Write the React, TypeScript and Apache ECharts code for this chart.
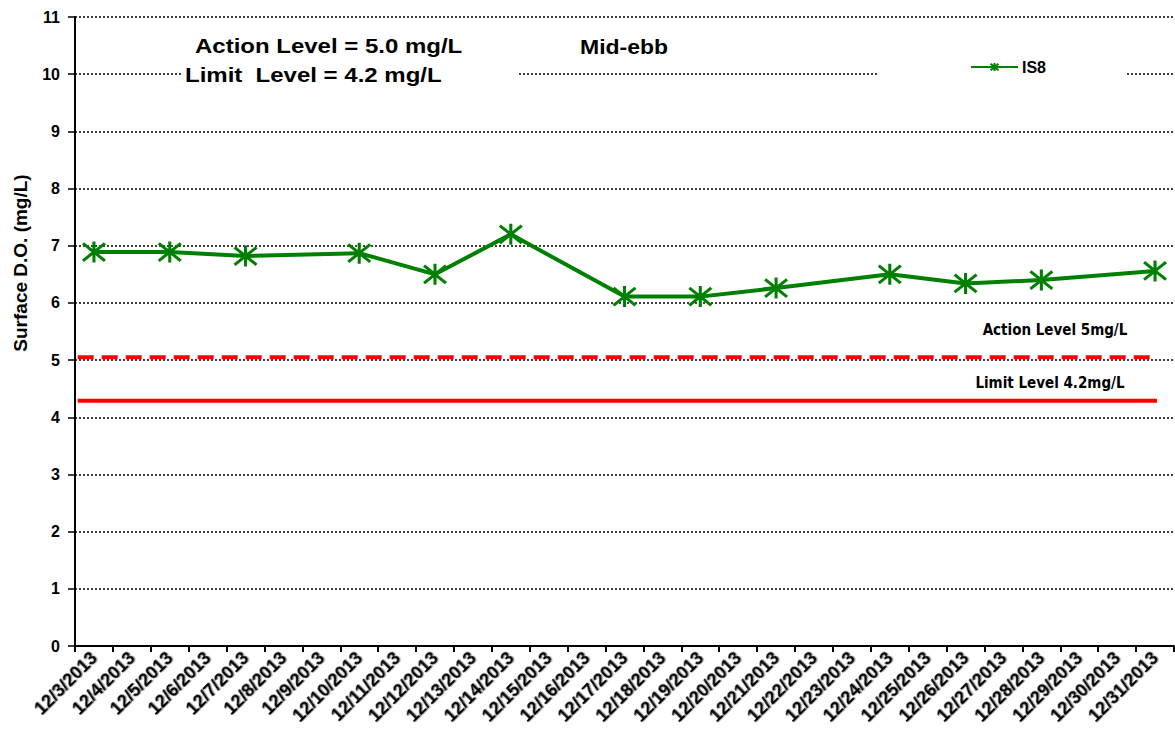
import React, { useEffect, useRef } from "react";
import * as echarts from "echarts";

const dates = [
  "12/3/2013", "12/4/2013", "12/5/2013", "12/6/2013", "12/7/2013", "12/8/2013",
  "12/9/2013", "12/10/2013", "12/11/2013", "12/12/2013", "12/13/2013", "12/14/2013",
  "12/15/2013", "12/16/2013", "12/17/2013", "12/18/2013", "12/19/2013", "12/20/2013",
  "12/21/2013", "12/22/2013", "12/23/2013", "12/24/2013", "12/25/2013", "12/26/2013",
  "12/27/2013", "12/28/2013", "12/29/2013", "12/30/2013", "12/31/2013",
];
// IS8 surface DO, null = no sampling that day
const is8 = [
  6.89, null, 6.89, null, 6.82, null, null, 6.87, null, 6.5, null, 7.2,
  null, null, 6.11, null, 6.11, null, 6.26, null, null, 6.5, null, 6.34,
  null, 6.4, null, null, 6.56,
];
const actionLevel = 5.05;
const limitLevel = 4.29;
const levelSpan = [0.07, 28.55];
const yTicks = { min: 0, max: 11, interval: 1 };

const FONT = "'Liberation Sans', Arial, sans-serif";
const STAR = "path://M0,0L10,10M10,0L0,10M5,-1L5,11";

export default function App() {
  const ref = useRef<HTMLDivElement>(null);
  useEffect(() => {
    if (!ref.current) return;
    const chart = echarts.init(ref.current, undefined, { renderer: "svg" });
    const green = "#008000";
    chart.setOption({
      animation: false,
      backgroundColor: "#fff",
      grid: { left: 75, right: 1, top: 17, bottom: 94, containLabel: false },
      legend: {
        data: ["IS8"],
        left: 877,
        top: 53,
        padding: [6, 80, 6, 93],
        backgroundColor: "#fff",
        itemWidth: 47,
        itemHeight: 10,
        itemGap: 4,
        textStyle: { fontFamily: FONT, fontWeight: "bold", fontSize: 16, color: "#000", padding: [0, 0, 0, -1] },
      },
      xAxis: [
        {
          type: "category",
          data: dates,
          boundaryGap: true,
          axisLine: { show: true, lineStyle: { color: "#000", width: 2 } },
          axisTick: { show: true, length: 6, interval: 0, lineStyle: { color: "#000", width: 2 } },
          axisLabel: {
            interval: 0,
            rotate: 45,
            margin: 9,
            fontFamily: FONT,
            fontWeight: "bold",
            fontSize: 18,
            color: "#000",
            textShadowColor: "rgba(0,0,0,0.35)",
            textShadowOffsetX: 1,
            textShadowOffsetY: 1,
            textShadowBlur: 1,
          },
          splitLine: { show: false },
        },
        {
          type: "value",
          min: 0,
          max: dates.length,
          show: false,
        },
      ],
      yAxis: {
        type: "value",
        min: yTicks.min,
        max: yTicks.max,
        interval: yTicks.interval,
        axisLine: { show: true, lineStyle: { color: "#000", width: 2 } },
        axisTick: { show: true, length: 7, lineStyle: { color: "#000", width: 1.5 } },
        axisLabel: {
          margin: 15,
          fontFamily: FONT,
          fontWeight: "bold",
          fontSize: 16,
          color: "#000",
        },
        splitLine: { show: true, lineStyle: { color: "#000", width: 1.5, type: [2, 2] } },
      },
      series: [
        {
          name: "Action",
          type: "line",
          xAxisIndex: 1,
          data: levelSpan.map((x) => [x, actionLevel]),
          symbol: "none",
          lineStyle: { color: "#ff0000", width: 4, type: [16, 8] },
          z: 3,
        },
        {
          name: "Limit",
          type: "line",
          xAxisIndex: 1,
          data: levelSpan.map((x) => [x, limitLevel]),
          symbol: "none",
          lineStyle: { color: "#ff0000", width: 4 },
          z: 3,
        },
        {
          name: "IS8",
          type: "line",
          xAxisIndex: 0,
          data: is8,
          connectNulls: true,
          symbol: STAR,
          symbolSize: [22, 21],
          symbolKeepAspect: false,
          lineStyle: { color: green, width: 4 },
          itemStyle: { color: green, borderColor: green, borderWidth: 3 },
          z: 4,
        },
      ],
      graphic: [
        {
          type: "rect",
          z: 10,
          shape: { x: 183, y: 30, width: 334, height: 60 },
          style: { fill: "#fff" },
        },
        {
          type: "text",
          z: 11,
          x: 195,
          y: 46,
          scaleX: 1.2,
          style: {
            text: "Action Level = 5.0 mg/L",
            font: `bold 20px ${FONT}`,
            fill: "#000",
            verticalAlign: "middle",
          },
        },
        {
          type: "text",
          z: 11,
          x: 185,
          y: 75,
          scaleX: 1.2,
          style: {
            text: "Limit  Level = 4.2 mg/L",
            font: `bold 20px ${FONT}`,
            fill: "#000",
            verticalAlign: "middle",
          },
        },
        {
          type: "text",
          z: 11,
          x: 580,
          y: 47,
          scaleX: 1.15,
          style: {
            text: "Mid-ebb",
            font: `bold 20px ${FONT}`,
            fill: "#000",
            verticalAlign: "middle",
          },
        },
        {
          type: "text",
          z: 11,
          x: 20,
          y: 263,
          rotation: Math.PI / 2,
          style: {
            text: "Surface D.O. (mg/L)",
            font: `bold 19px ${FONT}`,
            fill: "#000",
            align: "center",
            verticalAlign: "middle",
          },
        },
        {
          type: "text",
          z: 11,
          x: 1055,
          y: 330,
          style: {
            text: "Action Level 5mg/L",
            font: `bold 15px 'DejaVu Sans Condensed', 'Liberation Sans', sans-serif`,
            fill: "#000",
            align: "center",
            verticalAlign: "middle",
          },
        },
        {
          type: "text",
          z: 11,
          x: 1050,
          y: 383,
          style: {
            text: "Limit Level 4.2mg/L",
            font: `bold 15px 'DejaVu Sans Condensed', 'Liberation Sans', sans-serif`,
            fill: "#000",
            align: "center",
            verticalAlign: "middle",
          },
        },
      ],
    });
    return () => chart.dispose();
  }, []);
  return (
    <div
      ref={ref}
      style={{ position: "fixed", left: 0, top: 0, width: 1175, height: 740, background: "#fff" }}
    />
  );
}
